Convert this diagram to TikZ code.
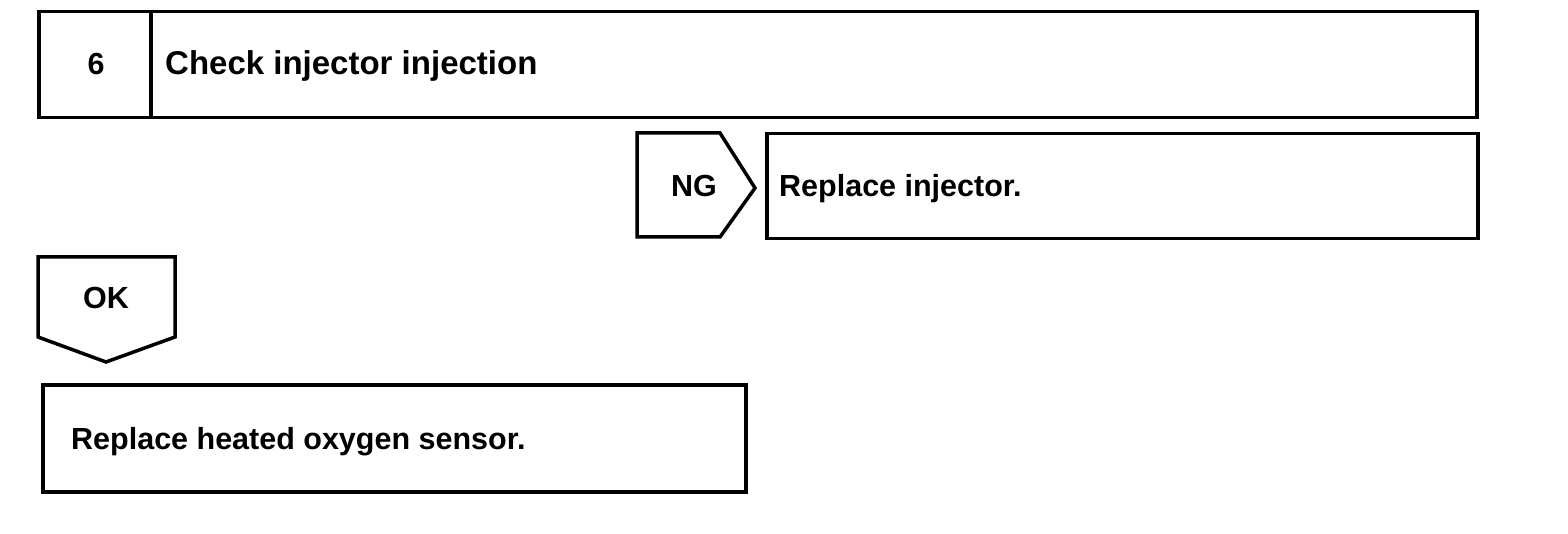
\documentclass[tikz,border=0pt]{standalone}
\usepackage{fontspec}
\setmainfont{Liberation Sans}
\begin{document}
\begin{tikzpicture}[x=1pt,y=-1pt,
  frame/.style={draw=black,line width=3.5pt,line join=miter},
  boxnode/.style={frame,rectangle,inner sep=0pt,anchor=north west},
  big/.style={font=\fontsize{33}{36}\selectfont\bfseries},
  txt/.style={font=\fontsize{30.5}{33}\selectfont\bfseries,inner sep=0pt}]
\useasboundingbox (0,0) rectangle (1568,534);
% top step box
\node[boxnode,minimum width=1438pt,minimum height=106pt] (stepbox) at (37,10) {};
\draw[frame] (151,10) -- (151,116);
\node[txt,anchor=base] (num) at (96,75) {6};
\node[big,inner sep=0pt,anchor=base west] (title) at (165,75) {Check injector injection};
% NG tag
\draw[frame] (637,133) -- (720,133) -- (755,188) -- (720,237) -- (637,237) -- cycle;
\node[txt,anchor=base] (ng) at (694,197) {NG};
% replace injector
\node[boxnode,minimum width=711pt,minimum height=105pt] (inj) at (765,132) {};
\node[txt,anchor=base west] (injtxt) at (779,197) {Replace injector.};
% OK tag
\draw[frame] (38,257) -- (175,257) -- (175,337) -- (106,362) -- (38,337) -- cycle;
\node[txt,anchor=base] (ok) at (106,309) {OK};
% replace sensor
\node[boxnode,minimum width=703pt,minimum height=107pt] (sens) at (41,383) {};
\node[txt,anchor=base west] (senstxt) at (71,449) {Replace heated oxygen sensor.};
\end{tikzpicture}
\end{document}
